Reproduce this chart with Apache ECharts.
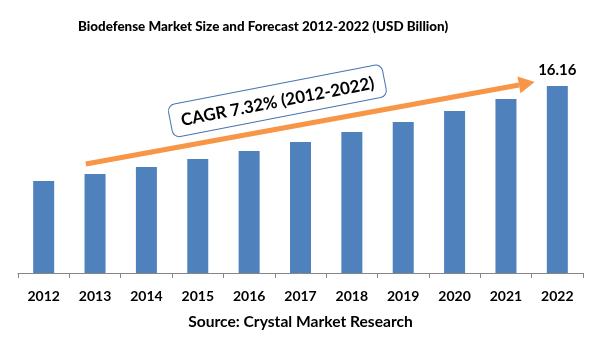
<!DOCTYPE html>
<html>
<head>
<meta charset="utf-8">
<script src="https://cdn.jsdelivr.net/npm/echarts@6/dist/echarts.min.js"></script>
<style>html,body{margin:0;padding:0;background:#fff}#c{width:601px;height:361px}</style>
</head>
<body>
<div id="c"></div>
<script>
var categories = ['2012','2013','2014','2015','2016','2017','2018','2019','2020','2021','2022'];
var values = [7.95, 8.56, 9.16, 9.85, 10.54, 11.32, 12.18, 13.05, 14.00, 15.04, 16.16];
var titleText = 'Biodefense Market Size and Forecast 2012-2022 (USD Billion)';
var sourceText = 'Source: Crystal Market Research';
var cagrText = 'CAGR 7.32% (2012-2022)';
// annotation anchors in data space: [category index (fractional), value]
var arrowStart = [0.82, 9.42];
var arrowEnd = [9.56, 16.5];
var boxCenter = [4.55, 14.88];

var FONT = 'Lato';
var chart = echarts.init(document.getElementById('c'), null, {renderer: 'canvas'});
chart.setOption({
  animation: false,
  backgroundColor: '#fff',
  title: {
    text: titleText,
    left: 73, top: 15,
    textStyle: {fontFamily: FONT, fontWeight: 900, fontSize: 13.4, color: '#000'}
  },
  grid: {left: 18, right: 18, top: 41.6, bottom: 88, containLabel: false},
  xAxis: {
    type: 'category', data: categories,
    axisLine: {lineStyle: {color: '#868686', width: 1}},
    axisTick: {show: true, length: 5, lineStyle: {color: '#868686'}},
    axisLabel: {fontFamily: FONT, fontWeight: 'bold', fontSize: 14, color: '#000', margin: 16}
  },
  yAxis: {type: 'value', min: 0, max: 20, show: false, splitLine: {show: false}},
  series: [{
    type: 'bar', data: values, barWidth: 21,
    itemStyle: {color: '#4F81BD'},
    label: {
      show: true, position: 'top', distance: 8,
      fontFamily: FONT, fontWeight: 'bold', fontSize: 15, color: '#000',
      formatter: function (p) { return p.dataIndex === values.length - 1 ? p.value.toFixed(2) : ''; }
    }
  }]
});

function px(pt) {
  var a = chart.convertToPixel({xAxisIndex: 0, yAxisIndex: 0}, [0, pt[1]]);
  var b = chart.convertToPixel({xAxisIndex: 0, yAxisIndex: 0}, [1, pt[1]]);
  return [a[0] + (b[0] - a[0]) * pt[0], a[1]];
}
var s = px(arrowStart), e = px(arrowEnd), c = px(boxCenter);
var ang = Math.atan2(e[1] - s[1], e[0] - s[0]);
var headLen = 16, headHalf = 8.5;
var bx = e[0] - headLen * Math.cos(ang), by = e[1] - headLen * Math.sin(ang);
var nx = -Math.sin(ang), ny = Math.cos(ang);
var boxRot = 11 * Math.PI / 180;

chart.setOption({
  graphic: [
    {type: 'line', shape: {x1: s[0], y1: s[1], x2: bx, y2: by},
     style: {stroke: '#F79646', lineWidth: 5}, z: 10},
    {type: 'polygon', shape: {points: [[e[0], e[1]], [bx + nx * headHalf, by + ny * headHalf], [bx - nx * headHalf, by - ny * headHalf]]},
     style: {fill: '#F79646'}, z: 10},
    {type: 'group', x: c[0], y: c[1], rotation: boxRot, z: 20, children: [
      {type: 'rect', shape: {x: -109, y: -16.5, width: 218, height: 33, r: 7},
       style: {fill: '#fff', stroke: '#4A72B0', lineWidth: 1}},
      {type: 'text', x: 0, y: 1, style: {text: cagrText, fontFamily: FONT, fontWeight: 'bold', fontSize: 17,
        fill: '#000', textAlign: 'center', textVerticalAlign: 'middle'}}
    ]},
    {type: 'text', left: 'center', top: 314,
     style: {text: sourceText, fontFamily: FONT, fontWeight: 'bold', fontSize: 15.6, fill: '#000'}}
  ]
});
</script>
</body>
</html>
